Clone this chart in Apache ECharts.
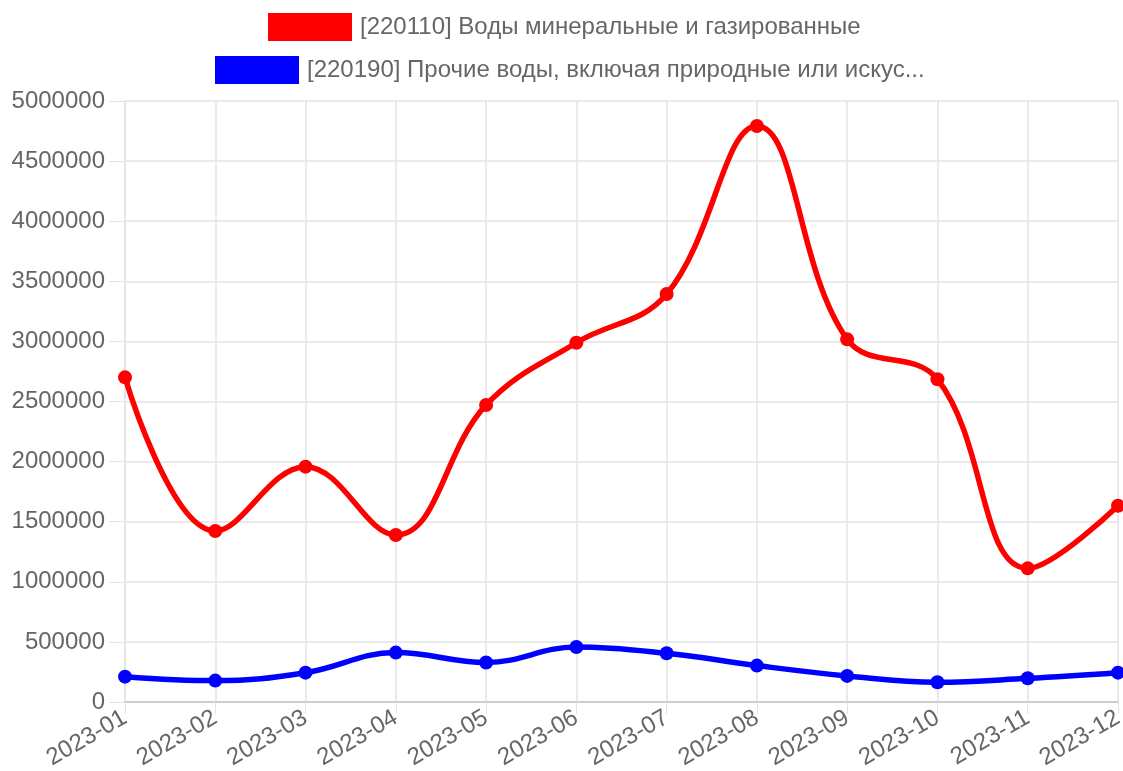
<!DOCTYPE html>
<html>
<head>
<meta charset="utf-8">
<script src="https://cdn.jsdelivr.net/npm/echarts@6/dist/echarts.min.js"></script>
<style>
  html, body { margin: 0; padding: 0; background: #fff; }
  #chart { width: 1123px; height: 771px; }
</style>
</head>
<body>
<div id="chart"></div>
<script>
const months = ['2023-01', '2023-02', '2023-03', '2023-04', '2023-05', '2023-06',
  '2023-07', '2023-08', '2023-09', '2023-10', '2023-11', '2023-12']
const mineralName = '[220110] Воды минеральные и газированные'
const otherName = '[220190] Прочие воды, включая природные или искус...'
const mineralValues = [2701000, 1423000, 1958000, 1389000, 2471000, 2989000,
  3394000, 4792000, 3017000, 2685000, 1112000, 1633000]
const otherValues = [211000, 178000, 244000, 411000, 328000, 458000,
  405000, 303000, 217000, 164000, 197000, 244000]

const font = '"Liberation Sans", Arial, sans-serif'
const chart = echarts.init(document.getElementById('chart'))

// одна строка легенды на серию
const legendRow = (name, top, left) => ({
  data: [name],
  top: top,
  left: left,
  padding: 0,
  icon: 'rect',
  itemWidth: 84,
  itemHeight: 28,
  textStyle: { color: '#666', fontSize: 24, fontFamily: font, padding: [0, 0, 0, 3] }
})

const lineSeries = (name, color, values) => ({
  name: name,
  type: 'line',
  smooth: 0.4,
  symbol: 'circle',
  symbolSize: 14,
  itemStyle: { color: color },
  lineStyle: { color: color, width: 5.5 },
  data: values
})

chart.setOption({
  animation: false,
  legend: [legendRow(mineralName, 13, 268), legendRow(otherName, 56, 215)],
  grid: { left: 125, right: 5, top: 101, bottom: 69, containLabel: false, outerBoundsMode: 'none' },
  xAxis: {
    type: 'category',
    boundaryGap: false,
    data: months,
    axisLine: { lineStyle: { color: '#c4c4c4', width: 1.5 } },
    axisTick: { show: true, length: 12, lineStyle: { color: '#e3e3e3' } },
    splitLine: { show: true, lineStyle: { color: '#e3e3e3', width: 1.5 } },
    axisLabel: { color: '#666', fontSize: 24, fontFamily: font, rotate: 30, margin: 14 }
  },
  yAxis: {
    type: 'value',
    min: 0,
    max: 5000000,
    interval: 500000,
    axisLine: { show: true, lineStyle: { color: '#e3e3e3', width: 1.5 } },
    axisTick: { show: true, length: 16, lineStyle: { color: '#e3e3e3' } },
    splitLine: { show: true, lineStyle: { color: '#e3e3e3', width: 1.5 } },
    axisLabel: { color: '#666', fontSize: 24, fontFamily: font, margin: 20, formatter: v => String(v) }
  },
  series: [
    lineSeries(mineralName, '#ff0000', mineralValues),
    lineSeries(otherName, '#0000ff', otherValues)
  ]
})
</script>
</body>
</html>
